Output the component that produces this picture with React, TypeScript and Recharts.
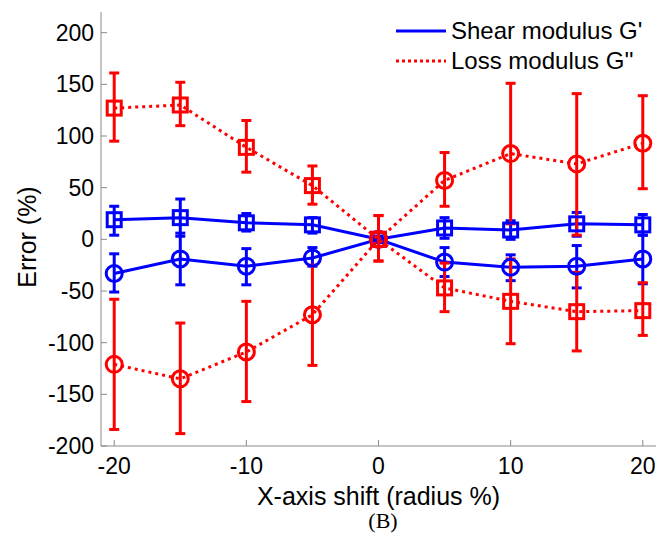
import React from "react";
import { LineChart, Line, XAxis, YAxis, ErrorBar } from "recharts";

const shifts = [-20, -15, -10, -5, 0, 5, 10, 15, 20];

// blue solid (G'), square markers
const gSquare = [19, 21, 16, 14, 0, 11, 9, 15, 14];
const gSquareLow = [4, 3, 8, 6, -3, 1, 0, 3, 4];
const gSquareHigh = [32, 39, 25, 21, 3, 21, 18, 26, 24];

// blue solid (G'), circle markers
const gCircle = [-33, -19, -26, -18, 0, -22, -27, -26, -19];
const gCircleLow = [-51, -44, -44, -26, -3, -36, -40, -47, -43];
const gCircleHigh = [-14, 6, -9, -8, 3, -8, -15, -6, 4];

// red dotted (G''), square markers
const lSquare = [127, 130, 89, 52, 0, -47, -60, -70, -69];
const lSquareLow = [95, 110, 65, 34, -21, -70, -101, -108, -93];
const lSquareHigh = [161, 152, 115, 71, 23, -23, -19, -32, -42];

// red dotted (G''), circle markers
const lCircle = [-121, -135, -109, -73, 0, 57, 83, 73, 93];
const lCircleLow = [-184, -188, -157, -122, -21, 32, 15, 4, 49];
const lCircleHigh = [-58, -81, -60, -25, 23, 84, 151, 141, 139];

const yTicks = [-200, -150, -100, -50, 0, 50, 100, 150, 200];
const xTicks = [-20, -10, 0, 10, 20];

const BLUE = "#0000ff";
const RED = "#ff0000";
const FRAME = "#8a8a8a";
const SANS = "'Liberation Sans', Arial, Helvetica, sans-serif";

const data = shifts.map((x, i) => ({
  x,
  gs: gSquare[i],
  gsErr: [gSquare[i] - gSquareLow[i], gSquareHigh[i] - gSquare[i]],
  gc: gCircle[i],
  gcErr: [gCircle[i] - gCircleLow[i], gCircleHigh[i] - gCircle[i]],
  ls: lSquare[i],
  lsErr: [lSquare[i] - lSquareLow[i], lSquareHigh[i] - lSquare[i]],
  lc: lCircle[i],
  lcErr: [lCircle[i] - lCircleLow[i], lCircleHigh[i] - lCircle[i]],
}));

const squareDot = (color: string) => (props: any) => {
  const { cx, cy, index } = props;
  return (
    <rect
      key={`s-${color}-${index}`}
      x={cx - 7}
      y={cy - 7}
      width={14}
      height={14}
      fill="none"
      stroke={color}
      strokeWidth={3}
    />
  );
};

const circleDot = (color: string) => (props: any) => {
  const { cx, cy, index } = props;
  return (
    <circle
      key={`c-${color}-${index}`}
      cx={cx}
      cy={cy}
      r={8}
      fill="none"
      stroke={color}
      strokeWidth={3}
    />
  );
};

const YLabel = () => (
  <text
    x={27}
    y={237}
    transform="rotate(-90 27 237)"
    textAnchor="middle"
    dominantBaseline="central"
    fontFamily={SANS}
    fontSize={25}
    fill="#000"
  >
    Error (%)
  </text>
);

export default function App() {
  return (
    <div style={{ position: "absolute", left: 0, top: 0, width: 662, height: 541, background: "#fff" }}>
      <LineChart width={662} height={541} data={data} margin={{ top: 12, right: 6, bottom: 35, left: 0 }}>
        <XAxis
          dataKey="x"
          type="number"
          domain={[-21, 21]}
          ticks={xTicks}
          allowDataOverflow
          height={60}
          stroke={FRAME}
          tickSize={-6}
          tickMargin={18}
          fontSize={23}
          fontFamily={SANS}
          tick={{ fill: "#000", fontSize: 23, fontFamily: SANS }}
          label={{
            value: "X-axis shift (radius %)",
            position: "insideBottom",
            offset: 1,
            fontSize: 25,
            fontFamily: SANS,
            fill: "#000",
          }}
        />
        <XAxis
          xAxisId="top"
          dataKey="x"
          type="number"
          orientation="top"
          domain={[-21, 21]}
          ticks={xTicks}
          height={0}
          stroke={FRAME}
          tickSize={-6}
          tick={false}
        />
        <YAxis
          type="number"
          domain={[-200, 220]}
          ticks={yTicks}
          allowDataOverflow
          width={101}
          stroke={FRAME}
          tickSize={-6}
          tickMargin={13}
          fontSize={23}
          fontFamily={SANS}
          tick={{ fill: "#000", fontSize: 23, fontFamily: SANS }}
          label={<YLabel />}
        />
        <YAxis
          yAxisId="right"
          type="number"
          orientation="right"
          domain={[-200, 220]}
          ticks={yTicks}
          width={0}
          stroke={FRAME}
          tickSize={-6}
          tick={false}
        />
        <Line dataKey="gs" stroke={BLUE} strokeWidth={3} dot={squareDot(BLUE)} isAnimationActive={false}>
          <ErrorBar dataKey="gsErr" direction="y" width={5} stroke={BLUE} strokeWidth={3} />
        </Line>
        <Line dataKey="gc" stroke={BLUE} strokeWidth={3} dot={circleDot(BLUE)} isAnimationActive={false}>
          <ErrorBar dataKey="gcErr" direction="y" width={5} stroke={BLUE} strokeWidth={3} />
        </Line>
        <Line
          dataKey="ls"
          stroke={RED}
          strokeWidth={3}
          strokeDasharray="3 4"
          dot={squareDot(RED)}
          isAnimationActive={false}
        >
          <ErrorBar dataKey="lsErr" direction="y" width={5} stroke={RED} strokeWidth={3} />
        </Line>
        <Line
          dataKey="lc"
          stroke={RED}
          strokeWidth={3}
          strokeDasharray="3 4"
          dot={circleDot(RED)}
          isAnimationActive={false}
        >
          <ErrorBar dataKey="lcErr" direction="y" width={5} stroke={RED} strokeWidth={3} />
        </Line>
      </LineChart>
      <div
        style={{
          position: "absolute",
          left: 393,
          top: 16,
          width: 262,
          fontFamily: SANS,
          fontSize: 24,
          color: "#000",
          lineHeight: "30px",
          background: "#fff",
        }}
      >
        <div style={{ display: "flex", alignItems: "center" }}>
          <svg width={58} height={30}>
            <line x1={3} y1={15} x2={53} y2={15} stroke={BLUE} strokeWidth={3} />
          </svg>
          <span>Shear modulus G'</span>
        </div>
        <div style={{ display: "flex", alignItems: "center" }}>
          <svg width={58} height={30}>
            <line x1={3} y1={15} x2={53} y2={15} stroke={RED} strokeWidth={3} strokeDasharray="3 3" />
          </svg>
          <span>Loss modulus G''</span>
        </div>
      </div>
      <div
        style={{
          position: "absolute",
          left: 0,
          width: 766,
          top: 508,
          textAlign: "center",
          fontFamily: "'Liberation Serif', 'Times New Roman', serif",
          fontSize: 22,
          color: "#000",
        }}
      >
        (B)
      </div>
    </div>
  );
}
